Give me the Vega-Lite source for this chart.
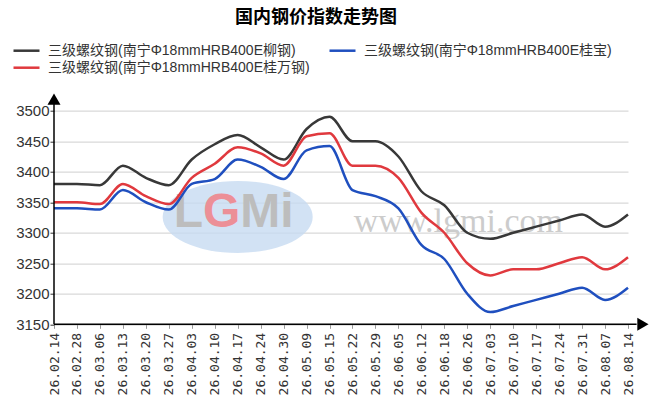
{
  "$schema": "https://vega.github.io/schema/vega-lite/v6.json",
  "width": 574,
  "height": 213.6,
  "autosize": {"type": "none"},
  "padding": {"left": 54, "top": 110.7, "right": 28, "bottom": 80.7},
  "background": "white",
  "title": {
    "text": "国内钢价指数走势图",
    "font": "Noto Sans CJK SC",
    "fontSize": 18,
    "fontWeight": "bold",
    "color": "#000000",
    "anchor": "middle",
    "frame": "group",
    "dx": -25,
    "offset": 16
  },
  "config": {
    "view": {"stroke": null},
    "axisY": {"labelOverlap": false, "labelFlush": false}
  },
  "datasets": {
    "prices": [
      {"date": "26.02.14", "series": "三级螺纹钢(南宁Φ18mmHRB400E柳钢)", "price": 3380},
      {"date": "26.02.28", "series": "三级螺纹钢(南宁Φ18mmHRB400E柳钢)", "price": 3380},
      {"date": "26.03.06", "series": "三级螺纹钢(南宁Φ18mmHRB400E柳钢)", "price": 3378},
      {"date": "26.03.13", "series": "三级螺纹钢(南宁Φ18mmHRB400E柳钢)", "price": 3410},
      {"date": "26.03.20", "series": "三级螺纹钢(南宁Φ18mmHRB400E柳钢)", "price": 3390},
      {"date": "26.03.27", "series": "三级螺纹钢(南宁Φ18mmHRB400E柳钢)", "price": 3378},
      {"date": "26.04.03", "series": "三级螺纹钢(南宁Φ18mmHRB400E柳钢)", "price": 3420},
      {"date": "26.04.10", "series": "三级螺纹钢(南宁Φ18mmHRB400E柳钢)", "price": 3445},
      {"date": "26.04.17", "series": "三级螺纹钢(南宁Φ18mmHRB400E柳钢)", "price": 3460},
      {"date": "26.04.24", "series": "三级螺纹钢(南宁Φ18mmHRB400E柳钢)", "price": 3440},
      {"date": "26.04.30", "series": "三级螺纹钢(南宁Φ18mmHRB400E柳钢)", "price": 3420},
      {"date": "26.05.09", "series": "三级螺纹钢(南宁Φ18mmHRB400E柳钢)", "price": 3470},
      {"date": "26.05.15", "series": "三级螺纹钢(南宁Φ18mmHRB400E柳钢)", "price": 3490},
      {"date": "26.05.22", "series": "三级螺纹钢(南宁Φ18mmHRB400E柳钢)", "price": 3450},
      {"date": "26.05.29", "series": "三级螺纹钢(南宁Φ18mmHRB400E柳钢)", "price": 3450},
      {"date": "26.06.05", "series": "三级螺纹钢(南宁Φ18mmHRB400E柳钢)", "price": 3425},
      {"date": "26.06.12", "series": "三级螺纹钢(南宁Φ18mmHRB400E柳钢)", "price": 3368},
      {"date": "26.06.18", "series": "三级螺纹钢(南宁Φ18mmHRB400E柳钢)", "price": 3345},
      {"date": "26.06.26", "series": "三级螺纹钢(南宁Φ18mmHRB400E柳钢)", "price": 3300},
      {"date": "26.07.03", "series": "三级螺纹钢(南宁Φ18mmHRB400E柳钢)", "price": 3290},
      {"date": "26.07.10", "series": "三级螺纹钢(南宁Φ18mmHRB400E柳钢)", "price": 3300},
      {"date": "26.07.17", "series": "三级螺纹钢(南宁Φ18mmHRB400E柳钢)", "price": 3310},
      {"date": "26.07.24", "series": "三级螺纹钢(南宁Φ18mmHRB400E柳钢)", "price": 3320},
      {"date": "26.07.31", "series": "三级螺纹钢(南宁Φ18mmHRB400E柳钢)", "price": 3330},
      {"date": "26.08.07", "series": "三级螺纹钢(南宁Φ18mmHRB400E柳钢)", "price": 3310},
      {"date": "26.08.14", "series": "三级螺纹钢(南宁Φ18mmHRB400E柳钢)", "price": 3330},
      {"date": "26.02.14", "series": "三级螺纹钢(南宁Φ18mmHRB400E桂宝)", "price": 3340},
      {"date": "26.02.28", "series": "三级螺纹钢(南宁Φ18mmHRB400E桂宝)", "price": 3340},
      {"date": "26.03.06", "series": "三级螺纹钢(南宁Φ18mmHRB400E桂宝)", "price": 3338},
      {"date": "26.03.13", "series": "三级螺纹钢(南宁Φ18mmHRB400E桂宝)", "price": 3370},
      {"date": "26.03.20", "series": "三级螺纹钢(南宁Φ18mmHRB400E桂宝)", "price": 3350},
      {"date": "26.03.27", "series": "三级螺纹钢(南宁Φ18mmHRB400E桂宝)", "price": 3338},
      {"date": "26.04.03", "series": "三级螺纹钢(南宁Φ18mmHRB400E桂宝)", "price": 3380},
      {"date": "26.04.10", "series": "三级螺纹钢(南宁Φ18mmHRB400E桂宝)", "price": 3388},
      {"date": "26.04.17", "series": "三级螺纹钢(南宁Φ18mmHRB400E桂宝)", "price": 3420},
      {"date": "26.04.24", "series": "三级螺纹钢(南宁Φ18mmHRB400E桂宝)", "price": 3408},
      {"date": "26.04.30", "series": "三级螺纹钢(南宁Φ18mmHRB400E桂宝)", "price": 3388},
      {"date": "26.05.09", "series": "三级螺纹钢(南宁Φ18mmHRB400E桂宝)", "price": 3435},
      {"date": "26.05.15", "series": "三级螺纹钢(南宁Φ18mmHRB400E桂宝)", "price": 3442},
      {"date": "26.05.22", "series": "三级螺纹钢(南宁Φ18mmHRB400E桂宝)", "price": 3370},
      {"date": "26.05.29", "series": "三级螺纹钢(南宁Φ18mmHRB400E桂宝)", "price": 3360},
      {"date": "26.06.05", "series": "三级螺纹钢(南宁Φ18mmHRB400E桂宝)", "price": 3340},
      {"date": "26.06.12", "series": "三级螺纹钢(南宁Φ18mmHRB400E桂宝)", "price": 3280},
      {"date": "26.06.18", "series": "三级螺纹钢(南宁Φ18mmHRB400E桂宝)", "price": 3257},
      {"date": "26.06.26", "series": "三级螺纹钢(南宁Φ18mmHRB400E桂宝)", "price": 3200},
      {"date": "26.07.03", "series": "三级螺纹钢(南宁Φ18mmHRB400E桂宝)", "price": 3170},
      {"date": "26.07.10", "series": "三级螺纹钢(南宁Φ18mmHRB400E桂宝)", "price": 3180},
      {"date": "26.07.17", "series": "三级螺纹钢(南宁Φ18mmHRB400E桂宝)", "price": 3190},
      {"date": "26.07.24", "series": "三级螺纹钢(南宁Φ18mmHRB400E桂宝)", "price": 3200},
      {"date": "26.07.31", "series": "三级螺纹钢(南宁Φ18mmHRB400E桂宝)", "price": 3210},
      {"date": "26.08.07", "series": "三级螺纹钢(南宁Φ18mmHRB400E桂宝)", "price": 3190},
      {"date": "26.08.14", "series": "三级螺纹钢(南宁Φ18mmHRB400E桂宝)", "price": 3210},
      {"date": "26.02.14", "series": "三级螺纹钢(南宁Φ18mmHRB400E桂万钢)", "price": 3350},
      {"date": "26.02.28", "series": "三级螺纹钢(南宁Φ18mmHRB400E桂万钢)", "price": 3350},
      {"date": "26.03.06", "series": "三级螺纹钢(南宁Φ18mmHRB400E桂万钢)", "price": 3347},
      {"date": "26.03.13", "series": "三级螺纹钢(南宁Φ18mmHRB400E桂万钢)", "price": 3380},
      {"date": "26.03.20", "series": "三级螺纹钢(南宁Φ18mmHRB400E桂万钢)", "price": 3360},
      {"date": "26.03.27", "series": "三级螺纹钢(南宁Φ18mmHRB400E桂万钢)", "price": 3347},
      {"date": "26.04.03", "series": "三级螺纹钢(南宁Φ18mmHRB400E桂万钢)", "price": 3390},
      {"date": "26.04.10", "series": "三级螺纹钢(南宁Φ18mmHRB400E桂万钢)", "price": 3413},
      {"date": "26.04.17", "series": "三级螺纹钢(南宁Φ18mmHRB400E桂万钢)", "price": 3440},
      {"date": "26.04.24", "series": "三级螺纹钢(南宁Φ18mmHRB400E桂万钢)", "price": 3430},
      {"date": "26.04.30", "series": "三级螺纹钢(南宁Φ18mmHRB400E桂万钢)", "price": 3410},
      {"date": "26.05.09", "series": "三级螺纹钢(南宁Φ18mmHRB400E桂万钢)", "price": 3458},
      {"date": "26.05.15", "series": "三级螺纹钢(南宁Φ18mmHRB400E桂万钢)", "price": 3463},
      {"date": "26.05.22", "series": "三级螺纹钢(南宁Φ18mmHRB400E桂万钢)", "price": 3410},
      {"date": "26.05.29", "series": "三级螺纹钢(南宁Φ18mmHRB400E桂万钢)", "price": 3410},
      {"date": "26.06.05", "series": "三级螺纹钢(南宁Φ18mmHRB400E桂万钢)", "price": 3390},
      {"date": "26.06.12", "series": "三级螺纹钢(南宁Φ18mmHRB400E桂万钢)", "price": 3333},
      {"date": "26.06.18", "series": "三级螺纹钢(南宁Φ18mmHRB400E桂万钢)", "price": 3300},
      {"date": "26.06.26", "series": "三级螺纹钢(南宁Φ18mmHRB400E桂万钢)", "price": 3250},
      {"date": "26.07.03", "series": "三级螺纹钢(南宁Φ18mmHRB400E桂万钢)", "price": 3230},
      {"date": "26.07.10", "series": "三级螺纹钢(南宁Φ18mmHRB400E桂万钢)", "price": 3240},
      {"date": "26.07.17", "series": "三级螺纹钢(南宁Φ18mmHRB400E桂万钢)", "price": 3240},
      {"date": "26.07.24", "series": "三级螺纹钢(南宁Φ18mmHRB400E桂万钢)", "price": 3250},
      {"date": "26.07.31", "series": "三级螺纹钢(南宁Φ18mmHRB400E桂万钢)", "price": 3260},
      {"date": "26.08.07", "series": "三级螺纹钢(南宁Φ18mmHRB400E桂万钢)", "price": 3240},
      {"date": "26.08.14", "series": "三级螺纹钢(南宁Φ18mmHRB400E桂万钢)", "price": 3260}
    ]
  },
  "layer": [
    {
      "layer": [
        {
          "data": {"values": [{}]},
          "mark": {"type": "point", "shape": "M-1,0 A1,0.48 0 1,0 1,0 A1,0.48 0 1,0 -1,0 Z", "filled": true, "color": "#c7dbf1", "opacity": 0.8, "size": 22500},
          "encoding": {
            "x": {"datum": "26.04.17", "type": "ordinal"},
            "y": {"datum": 3326, "type": "quantitative", "scale": {"domain": [3150, 3500], "nice": false, "zero": false}}
          }
        },
        {
          "data": {"values": [{}]},
          "mark": {"type": "text", "text": "L", "font": "Liberation Sans", "fontSize": 48, "fontWeight": "bold", "color": "#bdbdbd", "baseline": "middle", "align": "left", "dx": -64},
          "encoding": {
            "x": {"datum": "26.04.17", "type": "ordinal"},
            "y": {"datum": 3332, "type": "quantitative", "scale": {"domain": [3150, 3500], "nice": false, "zero": false}}
          }
        },
        {
          "data": {"values": [{}]},
          "mark": {"type": "text", "text": "G", "font": "Liberation Sans", "fontSize": 48, "fontWeight": "bold", "color": "#ec8f97", "baseline": "middle", "align": "left", "dx": -34.7},
          "encoding": {
            "x": {"datum": "26.04.17", "type": "ordinal"},
            "y": {"datum": 3332, "type": "quantitative", "scale": {"domain": [3150, 3500], "nice": false, "zero": false}}
          }
        },
        {
          "data": {"values": [{}]},
          "mark": {"type": "text", "text": "Mi", "font": "Liberation Sans", "fontSize": 48, "fontWeight": "bold", "color": "#bdbdbd", "baseline": "middle", "align": "left", "dx": 2.6},
          "encoding": {
            "x": {"datum": "26.04.17", "type": "ordinal"},
            "y": {"datum": 3332, "type": "quantitative", "scale": {"domain": [3150, 3500], "nice": false, "zero": false}}
          }
        },
        {
          "data": {"values": [{}]},
          "mark": {"type": "text", "text": "www.lgmi.com", "font": "Liberation Serif", "fontSize": 34, "color": "#cccccc", "baseline": "alphabetic", "dx": 14},
          "encoding": {
            "x": {"datum": "26.06.18", "type": "ordinal"},
            "y": {"datum": 3301, "type": "quantitative", "scale": {"domain": [3150, 3500], "nice": false, "zero": false}}
          }
        },
        {
          "data": {"name": "prices"},
          "mark": {"type": "line", "interpolate": "monotone", "strokeWidth": 2.5},
          "encoding": {
            "x": {
              "field": "date",
              "type": "ordinal",
              "scale": {"type": "point", "padding": 0},
              "axis": {
                "title": null,
                "labelAngle": -90,
                "labelFont": "DejaVu Sans Mono",
                "labelFontSize": 13,
                "labelColor": "#333333",
                "labelPadding": 4,
                "domain": false,
                "ticks": true,
                "tickSize": 4,
                "tickColor": "#999999",
                "grid": false
              }
            },
            "y": {
              "field": "price",
              "type": "quantitative",
              "scale": {"domain": [3150, 3500], "nice": false, "zero": false},
              "axis": {
                "title": null,
                "values": [3150, 3200, 3250, 3300, 3350, 3400, 3450, 3500],
                "tickCount": 20,
                "format": "d",
                "labelOverlap": false,
                "labelFont": "Liberation Sans",
                "labelFontSize": 15,
                "labelColor": "#333333",
                "labelPadding": 1,
                "domain": false,
                "tickSize": 4,
                "tickColor": "#333333",
                "grid": true,
                "gridColor": "#d9d9d9",
                "gridWidth": 1.2
              }
            },
            "color": {
              "field": "series",
              "type": "nominal",
              "scale": {
                "domain": ["三级螺纹钢(南宁Φ18mmHRB400E柳钢)", "三级螺纹钢(南宁Φ18mmHRB400E桂宝)", "三级螺纹钢(南宁Φ18mmHRB400E桂万钢)"],
                "range": ["#383838", "#1f4fbf", "#e0393e"]
              },
              "legend": {
                "title": null,
                "orient": "none",
                "legendX": -35.5,
                "legendY": -68,
                "direction": "horizontal",
                "columns": 2,
                "symbolType": "M-2,0H2",
                "symbolSize": 169,
                "symbolStrokeWidth": 2.5,
                "labelFont": "Liberation Sans, Noto Sans CJK SC",
                "labelFontSize": 14,
                "labelColor": "#333333",
                "labelOffset": 13.5,
                "labelLimit": 400,
                "columnPadding": 14,
                "rowPadding": 2
              }
            }
          }
        },
        {
          "data": {"values": [{}]},
          "mark": {"type": "rule", "color": "#000000", "strokeWidth": 1.5},
          "encoding": {
            "x": {"datum": "26.02.14", "type": "ordinal"},
            "y": {"datum": 3150, "type": "quantitative", "scale": {"domain": [3150, 3500], "nice": false, "zero": false}},
            "y2": {"datum": 3516}
          }
        },
        {
          "data": {"values": [{}]},
          "mark": {"type": "point", "shape": "triangle-up", "filled": true, "color": "#000000", "opacity": 1, "size": 169},
          "encoding": {
            "x": {"datum": "26.02.14", "type": "ordinal"},
            "y": {"datum": 3519, "type": "quantitative", "scale": {"domain": [3150, 3500], "nice": false, "zero": false}}
          }
        }
      ]
    },
    {
      "data": {"values": [{}]},
      "layer": [
        {
          "mark": {"type": "rule", "color": "#000000", "strokeWidth": 1.5},
          "encoding": {
            "x": {"datum": 0, "type": "quantitative", "scale": {"domain": [0, 1], "nice": false, "zero": false}, "axis": null},
            "x2": {"datum": 1.015},
            "y": {"datum": 3150, "type": "quantitative", "scale": {"domain": [3150, 3500], "nice": false, "zero": false}}
          }
        },
        {
          "mark": {"type": "point", "shape": "triangle-right", "filled": true, "color": "#000000", "opacity": 1, "size": 169},
          "encoding": {
            "x": {"datum": 1.026, "type": "quantitative", "scale": {"domain": [0, 1], "nice": false, "zero": false}, "axis": null},
            "y": {"datum": 3150, "type": "quantitative", "scale": {"domain": [3150, 3500], "nice": false, "zero": false}}
          }
        }
      ]
    }
  ],
  "resolve": {"scale": {"x": "independent"}}
}
